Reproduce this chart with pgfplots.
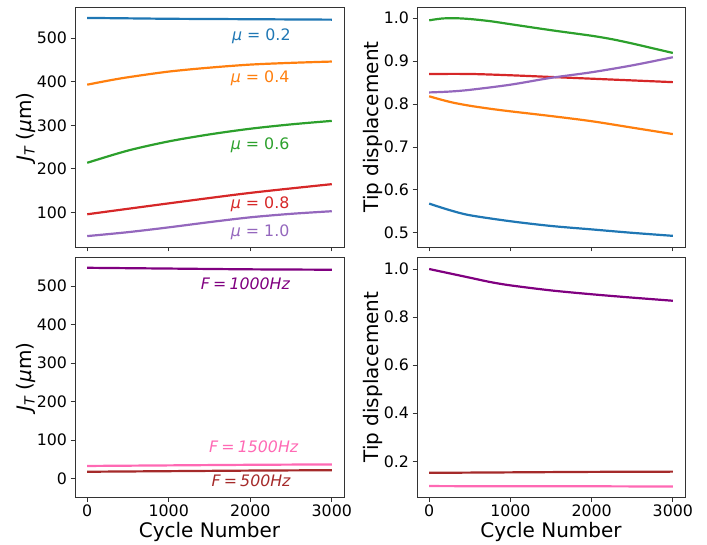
\documentclass[border=0pt]{standalone}
\usepackage{fontspec}
\setmainfont{DejaVu Sans}
\usepackage{pgfplots}
\pgfplotsset{compat=1.18}
\definecolor{c1}{HTML}{1F77B4}
\definecolor{c2}{HTML}{FF7F0E}
\definecolor{c3}{HTML}{2CA02C}
\definecolor{c4}{HTML}{D62728}
\definecolor{c5}{HTML}{9467BD}
\definecolor{mpurple}{HTML}{800080}
\definecolor{mpink}{HTML}{FF69B4}
\definecolor{mbrown}{HTML}{A52A2A}
\newcommand{\tf}{\fontsize{15.8}{15.8}\selectfont}
\newcommand{\lf}{\fontsize{20}{20}\selectfont}
\pgfplotsset{
  base/.style={
    scale only axis, width=269pt, height=240pt, anchor=south west,
    axis line style={black!80, line width=0.8pt},
    tick style={black!80, line width=0.8pt},
    major tick length=4.5pt, tick align=outside, tick pos=left,
    xmin=-150, xmax=3150, xtick={0,1000,2000,3000},
    scaled ticks=false,
    tick label style={font=\tf},
    /pgf/number format/assume math mode=true,
    /pgf/number format/set thousands separator={},
    clip=false,
    every axis plot/.append style={line width=2.2pt, no markers, smooth},
    xlabel style={font=\lf, at={(axis description cs:0.5,-0.145)}, anchor=center},
  },
  leftax/.style={ylabel style={font=\lf, at={(axis description cs:-0.182,0.5)}, anchor=center, rotate=0}},
  rightax/.style={ylabel style={font=\lf, at={(axis description cs:-0.163,0.5)}, anchor=center}},
}
\begin{document}
\begin{tikzpicture}
\useasboundingbox (0,0) rectangle (707pt,544pt);
% top-left
\begin{axis}[base, leftax, at={(75pt,297pt)}, ymin=21, ymax=571,
  ytick={100,200,300,400,500}, xticklabels={},
  ylabel={{\itshape J\textsubscript{T}} ({\itshape μ}m)}]
\addplot[c1] coordinates {(0,546) (500,545) (1000,544) (1500,543.5) (2000,543) (2500,542.5) (3000,542)};
\addplot[c2] coordinates {(0,393) (250,402) (500,410) (1000,423) (1500,432) (2000,439) (2500,443) (3000,446)};
\addplot[c3] coordinates {(0,214) (500,242) (1000,263) (1500,279) (2000,292) (2500,302) (3000,310)};
\addplot[c4] coordinates {(0,96) (1000,121) (2000,145) (3000,165)};
\addplot[c5] coordinates {(0,46) (500,55) (1000,66) (1500,78) (2000,89) (2500,97) (3000,103)};
\node[anchor=base west, c1, font=\tf, inner sep=0pt] at (axis cs:1775,495) {{\itshape μ} = 0.2};
\node[anchor=base west, c2, font=\tf, inner sep=0pt] at (axis cs:1760,399) {{\itshape μ} = 0.4};
\node[anchor=base west, c3, font=\tf, inner sep=0pt] at (axis cs:1760,245) {{\itshape μ} = 0.6};
\node[anchor=base west, c4, font=\tf, inner sep=0pt] at (axis cs:1760,110) {{\itshape μ} = 0.8};
\node[anchor=base west, c5, font=\tf, inner sep=0pt] at (axis cs:1760,45) {{\itshape μ} = 1.0};
\end{axis}
% top-right
\begin{axis}[base, rightax, at={(417pt,297pt)}, width=268pt, ymin=0.467, ymax=1.026,
  ytick={0.5,0.6,0.7,0.8,0.9,1.0}, xticklabels={},
  yticklabel style={/pgf/number format/.cd, fixed, fixed zerofill, precision=1},
  ylabel={Tip displacement}]
\addplot[c1] coordinates {(0,0.568) (250,0.553) (500,0.541) (1000,0.527) (1500,0.516) (2000,0.508) (2500,0.500) (3000,0.493)};
\addplot[c2] coordinates {(0,0.818) (150,0.810) (300,0.803) (500,0.796) (750,0.789) (1000,0.783) (1500,0.772) (2000,0.760) (2500,0.745) (3000,0.730)};
\addplot[c3] coordinates {(0,0.995) (150,0.999) (300,1.000) (500,0.998) (750,0.993) (1000,0.986) (1500,0.972) (2000,0.959) (2250,0.951) (2500,0.941) (2750,0.930) (3000,0.919)};
\addplot[c4] coordinates {(0,0.870) (500,0.870) (1000,0.867) (1500,0.863) (2000,0.859) (2500,0.855) (3000,0.851)};
\addplot[c5] coordinates {(0,0.827) (250,0.829) (500,0.833) (1000,0.845) (1500,0.861) (2000,0.874) (2500,0.890) (3000,0.909)};
\end{axis}
% bottom-left
\begin{axis}[base, leftax, at={(75pt,47pt)}, ymin=-47.5, ymax=575,
  ytick={0,100,200,300,400,500}, xlabel={Cycle Number},
  ylabel={{\itshape J\textsubscript{T}} ({\itshape μ}m)}]
\addplot[mpurple] coordinates {(0,547) (1000,545) (2000,543) (3000,542)};
\addplot[mpink] coordinates {(0,33) (1000,34.5) (2000,36) (3000,37)};
\addplot[mbrown] coordinates {(0,18) (1000,19.5) (2000,21) (3000,22)};
\node[anchor=base west, mpurple, font=\tf, inner sep=0pt] at (axis cs:1392,490) {\itshape F\hspace{0.2em}=\hspace{0.2em}1000Hz};
\node[anchor=base west, mpink, font=\tf, inner sep=0pt] at (axis cs:1494,68) {\itshape F\hspace{0.2em}=\hspace{0.2em}1500Hz};
\node[anchor=base west, mbrown, font=\tf, inner sep=0pt] at (axis cs:1523,-19) {\itshape F\hspace{0.2em}=\hspace{0.2em}500Hz};
\end{axis}
% bottom-right
\begin{axis}[base, rightax, at={(417pt,47pt)}, width=268pt, ymin=0.0515, ymax=1.05,
  ytick={0.2,0.4,0.6,0.8,1.0}, xlabel={Cycle Number},
  yticklabel style={/pgf/number format/.cd, fixed, fixed zerofill, precision=1},
  ylabel={Tip displacement}]
\addplot[mpurple] coordinates {(0,1.0) (250,0.982) (500,0.964) (750,0.946) (1000,0.932) (1500,0.911) (2000,0.895) (2500,0.881) (3000,0.868)};
\addplot[mbrown] coordinates {(0,0.152) (1000,0.154) (2000,0.156) (3000,0.157)};
\addplot[mpink] coordinates {(0,0.097) (1000,0.096) (2000,0.096) (3000,0.095)};
\end{axis}
\end{tikzpicture}
\end{document}
